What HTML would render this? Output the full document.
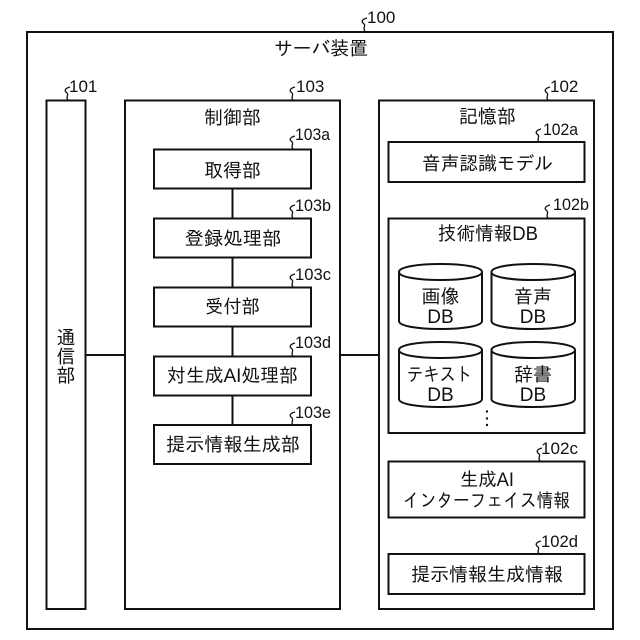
<!DOCTYPE html>
<html><head><meta charset="utf-8"><style>
html,body{margin:0;padding:0;background:#fff}
svg{display:block}
text{font-family:"Liberation Sans","IPAGothic","Noto Sans CJK JP",sans-serif;font-size:19px;fill:#111;text-anchor:middle}
.n{font-size:17px;text-anchor:start}
.b{fill:#fff;stroke:#111;stroke-width:2}
.s{fill:none;stroke:#111;stroke-width:1.3}
</style></head><body>
<svg width="640" height="640" viewBox="0 0 640 640" xmlns="http://www.w3.org/2000/svg">
<rect class="b" x="27" y="32" width="586" height="597"/>
<path d="M86 355H125M340 355H379" stroke="#111" stroke-width="2" fill="none"/>
<rect class="b" x="46.500" y="100.500" width="39" height="508.500"/>
<rect class="b" x="125" y="100.500" width="215" height="508.500"/>
<rect class="b" x="379" y="100.500" width="215" height="508.500"/>
<path d="M232.500 188V425" stroke="#111" stroke-width="2" fill="none"/>
<rect class="b" x="154" y="149.500" width="157" height="39"/>
<rect class="b" x="154" y="218.500" width="157" height="39"/>
<rect class="b" x="154" y="287.500" width="157" height="39"/>
<rect class="b" x="154" y="356.500" width="157" height="39"/>
<rect class="b" x="154" y="425" width="157" height="39"/>
<rect class="b" x="388.500" y="142" width="196" height="40"/>
<rect class="b" x="388.500" y="218.500" width="196" height="214.500"/>
<rect class="b" x="388.500" y="461.500" width="196" height="56"/>
<rect class="b" x="388.500" y="554" width="196" height="40"/>
<g class="b">
<path d="M399 272V321C399 326 417 329 440.500 329S482 326 482 321V272C482 267 464 264 440.500 264S399 267 399 272C399 277 417 280 440.500 280S482 277 482 272"/>
<path d="M491.500 272V321C491.500 326 510 329 533 329S575 326 575 321V272C575 267 556 264 533 264S491.500 267 491.500 272C491.500 277 510 280 533 280S575 277 575 272"/>
<path d="M399 350V399C399 404 417 407 440.500 407S482 404 482 399V350C482 345 464 342 440.500 342S399 345 399 350C399 355 417 358 440.500 358S482 355 482 350"/>
<path d="M491.500 350V399C491.500 404 510 407 533 407S575 404 575 399V350C575 345 556 342 533 342S491.500 345 491.500 350C491.500 355 510 358 533 358S575 355 575 350"/>
</g>
<g class="s">
<path d="M365 31C362 28 367 26 363 23C361 21 363 19 367 18"/>
<path d="M68 100C65 97 70 95 66 92C64 90 66 88 70 87"/>
<path d="M293 100C290 97 295 95 291 92C289 90 291 88 295 87"/>
<path d="M548 100C545 97 550 95 546 92C544 90 546 88 550 87"/>
<path d="M293 149C290 146 295 144 291 141C289 139 291 137 295 136"/>
<path d="M293 218C290 215 295 213 291 210C289 208 291 206 295 205"/>
<path d="M293 287C290 284 295 282 291 279C289 277 291 275 295 274"/>
<path d="M293 356C290 353 295 351 291 348C289 346 291 344 295 343"/>
<path d="M293 425C290 422 295 420 291 417C289 415 291 413 295 412"/>
<path d="M539 142C536 139 541 137 537 134C535 132 537 130 541 129"/>
<path d="M548 218C545 215 550 213 546 210C544 208 546 206 550 205"/>
<path d="M540 461C537 458 542 456 538 453C536 451 538 449 542 448"/>
<path d="M539 554C536 551 541 549 537 546C535 544 537 542 541 541"/>
</g>
<text class="n" x="367" y="23">100</text>
<text class="n" x="69" y="92">101</text>
<text class="n" x="296" y="92">103</text>
<text class="n" x="550" y="92">102</text>
<text class="n" x="295" y="140" textLength="35" lengthAdjust="spacingAndGlyphs">103a</text>
<text class="n" x="295" y="211" textLength="36" lengthAdjust="spacingAndGlyphs">103b</text>
<text class="n" x="295" y="280" textLength="36" lengthAdjust="spacingAndGlyphs">103c</text>
<text class="n" x="295" y="348" textLength="36" lengthAdjust="spacingAndGlyphs">103d</text>
<text class="n" x="295" y="418" textLength="36" lengthAdjust="spacingAndGlyphs">103e</text>
<text class="n" x="543" y="135" textLength="35" lengthAdjust="spacingAndGlyphs">102a</text>
<text class="n" x="553" y="210" textLength="36" lengthAdjust="spacingAndGlyphs">102b</text>
<text class="n" x="541" y="454" textLength="37" lengthAdjust="spacingAndGlyphs">102c</text>
<text class="n" x="541" y="547" textLength="37" lengthAdjust="spacingAndGlyphs">102d</text>
<text x="321" y="55" textLength="94" lengthAdjust="spacingAndGlyphs">サーバ装置</text>
<text x="232.500" y="124" textLength="57" lengthAdjust="spacingAndGlyphs">制御部</text>
<text x="487.500" y="123" textLength="57" lengthAdjust="spacingAndGlyphs">記憶部</text>
<text x="66" y="344">通</text>
<text x="66" y="363">信</text>
<text x="66" y="382">部</text>
<text x="232.500" y="177" textLength="57" lengthAdjust="spacingAndGlyphs">取得部</text>
<text x="233" y="245" textLength="97" lengthAdjust="spacingAndGlyphs">登録処理部</text>
<text x="232.500" y="313" textLength="55" lengthAdjust="spacingAndGlyphs">受付部</text>
<text x="232.500" y="382" textLength="131" lengthAdjust="spacingAndGlyphs">対生成AI処理部</text>
<text x="233" y="451" textLength="134" lengthAdjust="spacingAndGlyphs">提示情報生成部</text>
<text x="487.500" y="170" textLength="131" lengthAdjust="spacingAndGlyphs">音声認識モデル</text>
<text x="488" y="240" textLength="100" lengthAdjust="spacingAndGlyphs">技術情報DB</text>
<text x="440.500" y="303">画像</text>
<text x="440.500" y="323">DB</text>
<text x="533" y="303">音声</text>
<text x="533" y="323">DB</text>
<text x="439.500" y="381" textLength="65" lengthAdjust="spacingAndGlyphs">テキスト</text>
<text x="440.500" y="401">DB</text>
<text x="533" y="381">辞書</text>
<text x="533" y="401">DB</text>
<circle cx="487" cy="411.500" r="1.200" fill="#111"/>
<circle cx="487" cy="418.500" r="1.200" fill="#111"/>
<circle cx="487" cy="425" r="1.200" fill="#111"/>
<text x="487" y="486" textLength="54" lengthAdjust="spacingAndGlyphs">生成AI</text>
<text x="486.500" y="507" textLength="167" lengthAdjust="spacingAndGlyphs">インターフェイス情報</text>
<text x="487" y="581" textLength="152" lengthAdjust="spacingAndGlyphs">提示情報生成情報</text>
</svg>
</body></html>
